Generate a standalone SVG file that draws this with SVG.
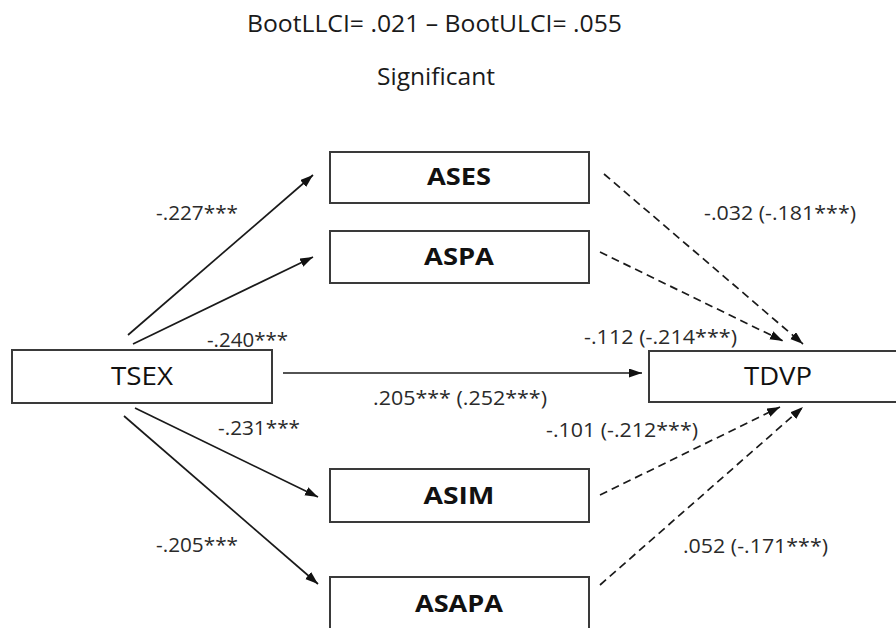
<svg xmlns="http://www.w3.org/2000/svg" width="896" height="628" viewBox="0 0 896 628">
<style>
.box{fill:#fff;stroke:#3a3a3a;stroke-width:2}
.lbl{font-family:"Open Sans","Noto Sans",sans-serif;font-size:25px;fill:#111;text-anchor:middle}
.blbl{font-family:"Open Sans","Noto Sans",sans-serif;font-size:24px;font-weight:bold;fill:#111;text-anchor:middle}
.t{font-family:"Open Sans","Noto Sans",sans-serif;font-size:19.5px;fill:#2a2a2a}
.hd{font-family:"Open Sans","Noto Sans",sans-serif;font-size:23.5px;fill:#1a1a1a}
.ln{stroke:#1a1a1a;stroke-width:1.7;fill:none;marker-end:url(#ah)}
.dl{stroke:#1a1a1a;stroke-width:1.7;fill:none;stroke-dasharray:8 5;marker-end:url(#ah)}
</style>
<defs>
<marker id="ah" markerUnits="userSpaceOnUse" markerWidth="14" markerHeight="10" refX="13" refY="4.5" orient="auto">
<path d="M0,0 L13,4.5 L0,9 z" fill="#111"/>
</marker>
</defs>
<rect width="896" height="628" fill="#fff"/>
<text class="hd" x="247" y="32" textLength="375" lengthAdjust="spacingAndGlyphs">BootLLCI= .021 – BootULCI= .055</text>
<text class="hd" x="377" y="85" textLength="118" lengthAdjust="spacingAndGlyphs">Significant</text>
<g id="connectors">
<line class="ln" x1="128" y1="335" x2="313" y2="175"/>
<line class="ln" x1="133" y1="344" x2="313" y2="257"/>
<line class="ln" x1="135" y1="408" x2="318" y2="497"/>
<line class="ln" x1="124" y1="416" x2="318" y2="584"/>
<line class="ln" x1="283" y1="373" x2="642" y2="373"/>
<line class="dl" x1="604" y1="174" x2="803" y2="344"/>
<line class="dl" x1="600" y1="252" x2="783" y2="341"/>
<line class="dl" x1="600" y1="495" x2="780" y2="407"/>
<line class="dl" x1="600" y1="585" x2="803" y2="407"/>
<text class="t" x="156" y="220" textLength="82" lengthAdjust="spacingAndGlyphs">-.227***</text>
<text class="t" x="207" y="347" textLength="81" lengthAdjust="spacingAndGlyphs">-.240***</text>
<text class="t" x="218" y="435" textLength="82" lengthAdjust="spacingAndGlyphs">-.231***</text>
<text class="t" x="156" y="552" textLength="82" lengthAdjust="spacingAndGlyphs">-.205***</text>
<text class="t" x="704" y="220" textLength="152" lengthAdjust="spacingAndGlyphs">-.032 (-.181***)</text>
<text class="t" x="584" y="344" textLength="153" lengthAdjust="spacingAndGlyphs">-.112 (-.214***)</text>
<text class="t" x="373" y="405" textLength="174" lengthAdjust="spacingAndGlyphs">.205*** (.252***)</text>
<text class="t" x="546" y="437" textLength="152" lengthAdjust="spacingAndGlyphs">-.101 (-.212***)</text>
<text class="t" x="683" y="553" textLength="145" lengthAdjust="spacingAndGlyphs">.052 (-.171***)</text>
</g>
<g id="TSEX">
<rect class="box" x="12" y="350" width="260" height="53"/>
<text class="lbl" x="142" y="385" textLength="62" lengthAdjust="spacingAndGlyphs">TSEX</text>
</g>
<g id="TDVP">
<rect class="box" x="649" y="351" width="260" height="51"/>
<text class="lbl" x="778" y="385" textLength="68" lengthAdjust="spacingAndGlyphs">TDVP</text>
</g>
<g id="ASES">
<rect class="box" x="330" y="152" width="259" height="51"/>
<text class="blbl" x="459" y="185" textLength="64" lengthAdjust="spacingAndGlyphs">ASES</text>
</g>
<g id="ASPA">
<rect class="box" x="330" y="231" width="259" height="52"/>
<text class="blbl" x="459" y="265" textLength="70" lengthAdjust="spacingAndGlyphs">ASPA</text>
</g>
<g id="ASIM">
<rect class="box" x="330" y="469" width="259" height="53"/>
<text class="blbl" x="459" y="504" textLength="71" lengthAdjust="spacingAndGlyphs">ASIM</text>
</g>
<g id="ASAPA">
<rect class="box" x="330" y="577" width="259" height="60"/>
<text class="blbl" x="459" y="612" textLength="88" lengthAdjust="spacingAndGlyphs">ASAPA</text>
</g>
</svg>
